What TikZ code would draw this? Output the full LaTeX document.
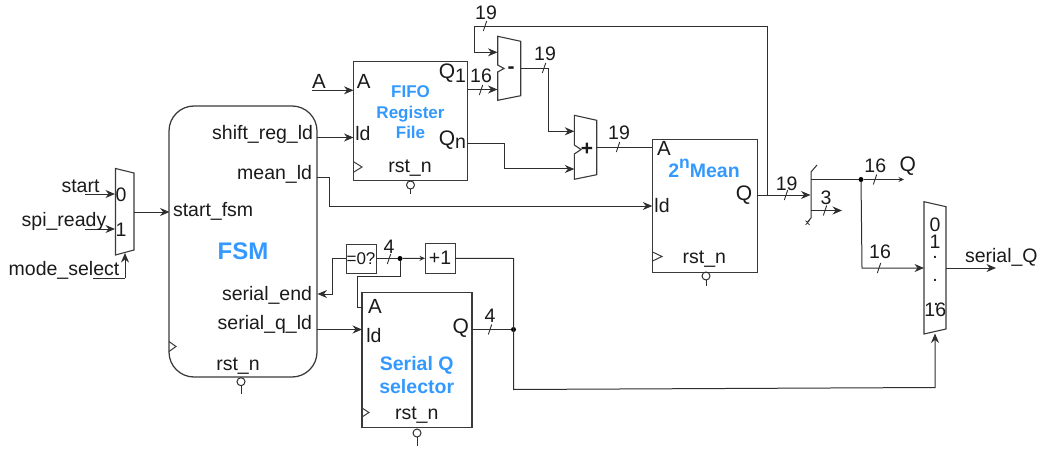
\documentclass[tikz,border=0pt]{standalone}
\usepackage{fontspec}
\setmainfont{Liberation Sans}
\usetikzlibrary{arrows.meta}
\definecolor{wire}{HTML}{2E2E2E}
\definecolor{blk}{HTML}{3A3A3A}
\definecolor{lbl}{HTML}{1A1A1A}
\definecolor{titleblue}{HTML}{3399FF}
\newcommand{\bigq}{{\fontsize{21}{22}\selectfont Q}}
\newcommand{\biga}{{\fontsize{20.5}{22}\selectfont A}}
\tikzset{
  wireline/.style={draw=wire,line width=1pt},
  arr/.style={wireline,-{Stealth[length=9.5pt,width=8pt]}},
  arrs/.style={wireline,-{Stealth[length=5.5pt,width=5pt]}},
  blockbox/.style={draw=blk,line width=1.25pt,minimum width=#1,inner sep=0pt,outer sep=0pt},
  smallbox/.style={draw=blk,line width=1pt,minimum width=#1,inner sep=0pt,outer sep=0pt},
  muxshape/.style={draw=blk,line width=1.1pt,fill=white,line join=miter},
  clk/.style={draw=blk,line width=1pt},
  bubble/.style={draw=wire,line width=1pt,circle,minimum size=8pt,inner sep=0pt,outer sep=0pt},
  dotn/.style={fill=black,circle,minimum size=5pt,inner sep=0pt,outer sep=0pt},
  txt/.style={inner sep=0pt,outer sep=0pt,text=lbl,font=\fontsize{19.5}{22}\selectfont},
  tb/.style={txt,anchor=base},
  tl/.style={txt,anchor=base west},
  tr/.style={txt,anchor=base east},
  title/.style={inner sep=0pt,outer sep=0pt,anchor=base,text=titleblue,font=\fontsize{#1}{#1}\selectfont\bfseries},
}
\newcommand{\wiretick}[2]{\draw[wire,line width=0.9pt] (#1-1.7,#2+5) -- (#1+1.7,#2-5);}
\begin{document}
\begin{tikzpicture}[x=1pt,y=-1pt]
\useasboundingbox (0,0) rectangle (1040,449);
% blocks
\node[blockbox=148pt,minimum height=271pt,rounded corners=25pt] (fsm) at (243,241.5) {};
\node[blockbox=114pt,minimum height=119.5pt] (fifo) at (410.4,121) {};
\node[blockbox=110pt,minimum height=135pt] (sel) at (417,360.2) {};
\node[blockbox=105pt,minimum height=133pt] (mean) at (704.8,205.8) {};
\node[smallbox=30pt,minimum height=29pt] (zero) at (361,258.5) {};
\node[smallbox=30pt,minimum height=29.5pt] (inc) at (440,258.3) {};
% muxes
\draw[muxshape] (115.5,168.5) -- (134,173) -- (134,250) -- (115.5,255) -- cycle;
\draw[muxshape] (497.7,36.3) -- (520.7,41.3) -- (520.7,95.7) -- (497.7,100.3) -- (497.7,72) -- (504,68.5) -- (497.7,65) -- cycle;
\draw[muxshape] (574.3,115.3) -- (596.7,120.3) -- (596.7,174.7) -- (574.3,179.3) -- (574.3,154) -- (581,149.5) -- (574.3,145) -- cycle;
\draw[muxshape] (924,201.7) -- (946,206.7) -- (946,329) -- (924,334) -- cycle;
% clock marks
\draw[clk] (169,341.5) -- (176,346.5) -- (169,351.5);
\draw[clk] (354,162) -- (362,167) -- (354,172);
\draw[clk] (362,408) -- (369,412.5) -- (362,417);
\draw[clk] (652.5,252) -- (662,256.5) -- (652.5,261);
% reset pins
\node[bubble] (b1) at (241,381.7) {}; \coordinate (b1e) at (241,394);
\node[bubble] (b2) at (410.5,185) {}; \coordinate (b2e) at (410.5,194);
\node[bubble] (b3) at (417,433) {};   \coordinate (b3e) at (417,446);
\node[bubble] (b4) at (706,276) {};   \coordinate (b4e) at (706,286);
\draw[wireline] (b1) -- (b1e); \draw[wireline] (b2) -- (b2e);
\draw[wireline] (b3) -- (b3e); \draw[wireline] (b4) -- (b4e);
% junctions
\node[dotn] (j1) at (400,258.5) {};
\node[dotn] (j2) at (513.5,329.5) {};
\node[dotn] (j3) at (861,179.5) {};
% free ends and pins
\coordinate (ista) at (85,194);   \coordinate (m0) at (115,194);
\coordinate (ispi) at (85,229);   \coordinate (m1) at (115,229);
\coordinate (imod) at (93,278);   \coordinate (ms) at (125,278); \coordinate (mst) at (125,253);
\coordinate (mo) at (134,212);    \coordinate (fs) at (169.5,212);
\coordinate (fshift) at (317,137.5); \coordinate (fifold) at (353.5,137.5);
\coordinate (fmean) at (317,177); \coordinate (meanld) at (652.3,206);
\coordinate (fend) at (317.5,294);
\coordinate (fq) at (317,329.5);  \coordinate (selld) at (362,329.5);
\coordinate (selq) at (472,329.5);
\coordinate (selA) at (362,307.3);
\coordinate (iA) at (312,90.3);   \coordinate (fifoA) at (353.5,90.3);
\coordinate (q1) at (467.3,89.5); \coordinate (subb) at (497.5,89.5);
\coordinate (suba) at (497.5,52.3);
\coordinate (subo) at (520.7,68.3);
\coordinate (addb) at (574.3,169); \coordinate (adda) at (574.3,131.3);
\coordinate (qn) at (467.3,143.5);
\coordinate (addo) at (596.7,147.3); \coordinate (meanA) at (652.3,147.3);
\coordinate (meanq) at (757.3,195); \coordinate (split) at (810.5,195);
\coordinate (fb) at (767,195);
\coordinate (s16) at (811,179.5); \coordinate (oQ) at (904,179.5);
\coordinate (s3) at (811,210.5);  \coordinate (o3) at (842,210.5);
\coordinate (mx16) at (924,268);
\coordinate (mxo) at (946,268);   \coordinate (oS) at (996,268);
\coordinate (mxs) at (935,333.5);
\coordinate (splT) at (817,165);  \coordinate (splB) at (807.5,222);
% connectors
\draw[arr] (ista) -- (m0);
\draw[arr] (ispi) -- (m1);
\draw[wireline] (imod) -- (ms);
\draw[arr] (ms) -- (mst);
\draw[arr] (mo) -- (fs);
\draw[arr] (fshift) -- (fifold);
\draw[arr] (fmean) -- (329,177) -- (329,206) -- (meanld);
\draw[arr] (zero.west) -- (332,258.5) -- (332,294) -- (fend);
\draw[wireline] (zero.east) -- (j1);
\draw[arrs] (j1) -- (inc.west);
\draw[wireline] (j1) -- (400,276.7) -- (357.5,276.7) -- (357.5,307.3) -- (selA);
\draw[arr] (fq) -- (selld);
\draw[wireline] (selq) -- (j2);
\draw[arr] (inc.east) -- (513.5,258.5) -- (513.5,389.5) -- (935,387.5) -- (mxs);
\draw[arr] (iA) -- (fifoA);
\draw[arr] (q1) -- (subb);
\draw[arr] (fb) -- (767,26.3) -- (474.7,26.3) -- (474.7,52.3) -- (suba);
\draw[arr] (subo) -- (548.5,68.3) -- (548.5,131.3) -- (adda);
\draw[arr] (qn) -- (504.5,143.5) -- (504.5,169) -- (addb);
\draw[wireline] (addo) -- (meanA);
\draw[arr] (meanq) -- (split);
\draw[wireline] (splB) -- (811,218) -- (811,172) -- (splT);
\draw[wireline] (s16) -- (j3);
\draw[arrs] (j3) -- (oQ);
\draw[arr] (s3) -- (o3);
\draw[arr] (j3) -- (862,268) -- (mx16);
\draw[arr] (mxo) -- (oS);
\draw[wire,line width=0.7pt] (805.5,220.5) -- (809.5,225) (809.5,220.5) -- (805.5,225);
% ticks
\wiretick{481}{90} \wiretick{485}{26} \wiretick{544}{68} \wiretick{618}{147}
\wiretick{389}{259} \wiretick{490}{329.5} \wiretick{786}{195} \wiretick{875}{179.5}
\wiretick{825}{210.5} \wiretick{879}{268}
% FSM labels
\node[tr] (l1) at (313,140) {shift\_reg\_ld};
\node[tr] (l2) at (312,179) {mean\_ld};
\node[tl] (l3) at (173,216.7) {start\_fsm};
\node[tr] (l4) at (312,300) {serial\_end};
\node[tr] (l5) at (312,329) {serial\_q\_ld};
\node[tb] (l6) at (238,370) {rst\_n};
\node[title=24] (l7) at (243,259.3) {FSM};
% inputs
\node[tb] (l8) at (80.5,193) {start};
\node[tb] (l9) at (64,226.7) {spi\_ready};
\node[tb] (l10) at (64,275) {mode\_select};
\node[tb] (l11) at (121,201) {0};
\node[tb] (l12) at (121,236) {1};
% FIFO
\node[tb] (l13) at (319,89) {\biga};
\node[tb] (l14) at (363.7,89) {\biga};
\node[tb] (l15) at (363,141) {ld};
\node[tr] (l16) at (466,79) {\bigq\raisebox{-4pt}{1}};
\node[tr] (l17) at (466,146) {\bigq\raisebox{-3pt}{n}};
\node[title=17] (l18) at (410.5,98) {FIFO};
\node[title=17] (l19) at (410.5,119) {Register};
\node[title=17] (l20) at (410.5,139) {File};
\node[tb] (l21) at (410,172.7) {rst\_n};
\node[tb] (l22) at (481,83) {16};
\node[tb] (l23) at (486,19.5) {19};
\node[tb] (l24) at (545,61) {19};
\node[tb] (l25) at (619,140) {19};
\node[txt,anchor=base,font=\fontsize{21}{22}\selectfont\bfseries] (l26) at (511,73.5) {-};
\node[txt,anchor=base,font=\fontsize{21}{22}\selectfont\bfseries] (l27) at (587,156) {+};
% Serial Q
\node[txt,anchor=base,font=\fontsize{17}{20}\selectfont] (l28) at (361,264) {=0?};
\node[tb] (l29) at (440,264) {+1};
\node[tb] (l30) at (389,253) {4};
\node[tb] (l31) at (375,313) {\biga};
\node[tb] (l32) at (374,342.7) {ld};
\node[tb] (l33) at (460.7,333) {\bigq};
\node[tb] (l34) at (490,322) {4};
\node[title=19.5] (l35) at (416.7,370.7) {Serial Q};
\node[title=19.5] (l36) at (416.7,393) {selector};
\node[tb] (l37) at (416.7,419.3) {rst\_n};
% Mean
\node[tb] (l38) at (664,156) {\biga};
\node[title=19.5] (l39) at (704,177.7) {2\raisebox{9pt}{\fontsize{17.5}{18}\selectfont n}Mean};
\node[tb] (l40) at (662,212.7) {ld};
\node[tb] (l41) at (744,200.7) {\bigq};
\node[tb] (l42) at (704.3,263.3) {rst\_n};
\node[tb] (l43) at (786.7,190) {19};
\node[tb] (l44) at (875.3,172.3) {16};
\node[tb] (l45) at (907.7,171.7) {\bigq};
\node[tb] (l46) at (826,204) {3};
\node[tb] (l47) at (880,258.3) {16};
% output mux
\node[tb] (l48) at (935,231.7) {0};
\node[tb] (l49) at (935,248.3) {1};
\node[tb] (l50) at (935,258) {.};
\node[tb] (l51) at (935,281) {.};
\node[tb] (l52) at (936,305) {.};
\node[tb] (l53) at (935.3,316) {16};
\node[tl] (l54) at (965,262.3) {serial\_Q};
\end{tikzpicture}
\end{document}
